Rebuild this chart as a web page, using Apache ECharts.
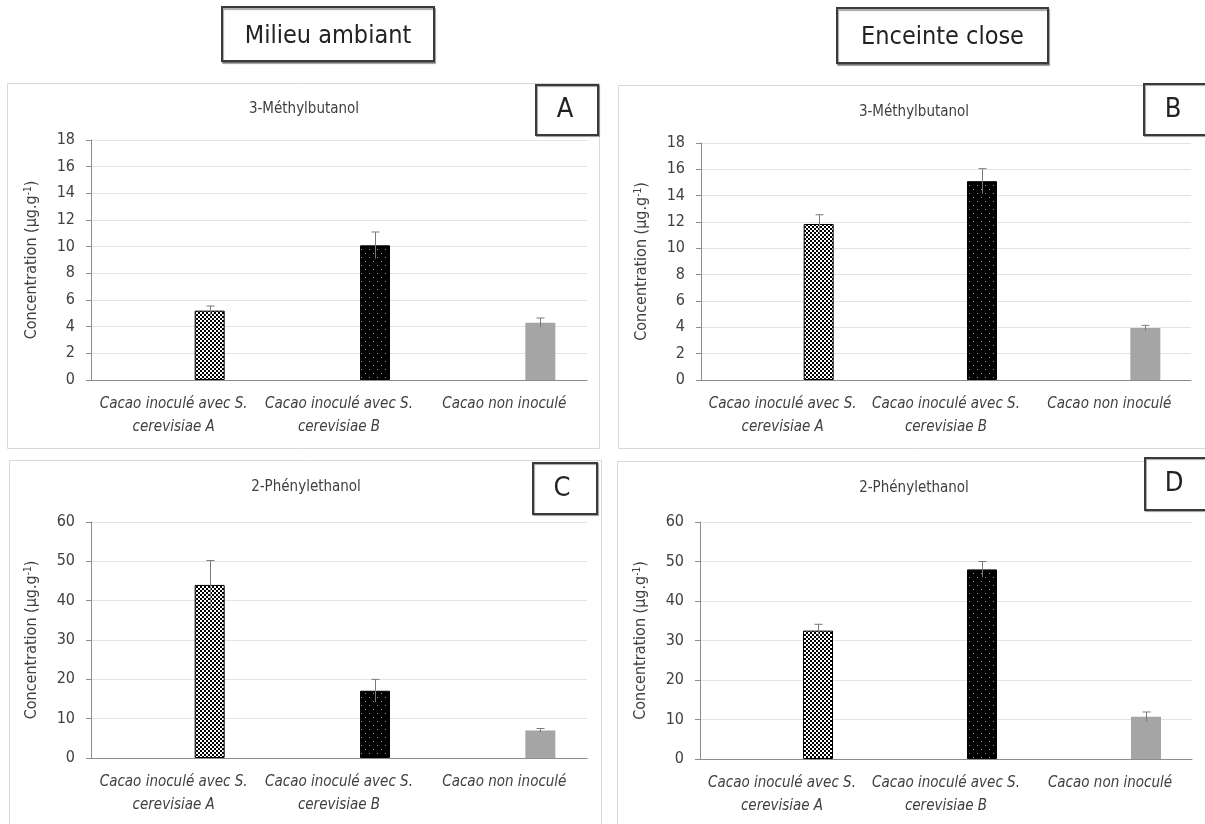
<!DOCTYPE html>
<html><head><meta charset="utf-8">
<script src="https://cdn.jsdelivr.net/npm/echarts@6/dist/echarts.min.js"></script>
<style>html,body{margin:0;padding:0;background:#fff}#c{width:1205px;height:824px}</style>
</head><body><div id="c"></div>
<script>
// ---------------- data ----------------
var categories = ['Cacao inoculé avec S.\ncerevisiae A', 'Cacao inoculé avec S.\ncerevisiae B', 'Cacao non inoculé'];
var headerLabels = ['Milieu ambiant', 'Enceinte close'];
var panelLetters = ['A', 'B', 'C', 'D'];
var panelTitles = ['3-Méthylbutanol', '3-Méthylbutanol', '2-Phénylethanol', '2-Phénylethanol'];
var yAxisName = 'Concentration (µg.g{s|-1})';

var valuesA = [5.2, 10.1, 4.3];
var errorsA = [0.35, 1.0, 0.35];
var valuesB = [11.85, 15.1, 3.95];
var errorsB = [0.7, 0.95, 0.2];
var valuesC = [44.0, 17.1, 7.0];
var errorsC = [6.2, 2.9, 0.5];
var valuesD = [32.5, 48.0, 10.7];
var errorsD = [1.6, 2.0, 1.2];

var yMaxTop = 18, yStepTop = 2;
var yMaxBottom = 60, yStepBottom = 10;

// ---------------- styles ----------------
var FONT = "'Liberation Sans Narrow','Arial Narrow','DejaVu Sans Condensed',sans-serif";
var TEXT = '#404040';
var BAR_W = 30, BAR_GAP = 1.4, CAP = 8;
var BAR_OFFSET = BAR_W * (1 + BAR_GAP) / 2;
var ERR_COLOR = '#7a7a7a';

function makeChecker() {
  var c = document.createElement('canvas'); c.width = 4; c.height = 4;
  var g = c.getContext('2d');
  g.fillStyle = '#000'; g.fillRect(0, 0, 4, 4);
  g.fillStyle = '#fff'; g.fillRect(0, 0, 2, 2); g.fillRect(2, 2, 2, 2);
  return c;
}
function makeDots() {
  var c = document.createElement('canvas'); c.width = 8; c.height = 8;
  var g = c.getContext('2d');
  g.fillStyle = '#000'; g.fillRect(0, 0, 8, 8);
  g.fillStyle = '#9a9a9a'; g.fillRect(1, 1, 1, 1); g.fillRect(5, 5, 1, 1);
  return c;
}
var fills = [
  { image: makeChecker(), repeat: 'repeat' },
  { image: makeDots(), repeat: 'repeat' },
  '#a5a5a5'
];

var panels = [
  { vals: valuesA, errs: errorsA, max: yMaxTop, step: yStepTop, grid: { left: 91, top: 140, width: 496, height: 240 },
    box: [7.5, 83.5, 592, 365], letterBox: [536, 85, 62, 50], titlePos: [304, 109] },
  { vals: valuesB, errs: errorsB, max: yMaxTop, step: yStepTop, grid: { left: 701, top: 143, width: 490, height: 237 },
    box: [618.5, 85.5, 620, 363], letterBox: [1144, 84, 70, 51], titlePos: [914, 112] },
  { vals: valuesC, errs: errorsC, max: yMaxBottom, step: yStepBottom, grid: { left: 91, top: 522, width: 496, height: 236 },
    box: [9.5, 460.5, 592, 400], letterBox: [533, 463, 64, 51], titlePos: [306, 487] },
  { vals: valuesD, errs: errorsD, max: yMaxBottom, step: yStepBottom, grid: { left: 700, top: 522, width: 492, height: 237 },
    box: [617.5, 461.5, 620, 400], letterBox: [1145, 458, 70, 52], titlePos: [914, 488] }
];

var grids = [], xAxes = [], yAxes = [], series = [], graphics = [];

panels.forEach(function (p, i) {
  graphics.push({ type: 'rect', shape: { x: p.box[0], y: p.box[1], width: p.box[2], height: p.box[3] },
    style: { fill: '#fff', stroke: '#d9d9d9', lineWidth: 1 }, z: -10 });
  graphics.push({ type: 'text', x: p.titlePos[0], y: p.titlePos[1],
    style: { text: panelTitles[i], font: '15px ' + FONT, fill: TEXT, textAlign: 'center', textVerticalAlign: 'middle' }, z: 5 });
  var lb = p.letterBox;
  graphics.push({ type: 'rect', shape: { x: lb[0], y: lb[1], width: lb[2], height: lb[3] },
    style: { fill: '#fff', stroke: '#3a3a3a', lineWidth: 2, shadowColor: 'rgba(0,0,0,0.35)', shadowOffsetX: 1, shadowOffsetY: 1, shadowBlur: 1 }, z: 5 });
  graphics.push({ type: 'text', x: lb[0] + 29, y: lb[1] + lb[3] / 2,
    style: { text: panelLetters[i], font: '27px ' + FONT, fill: '#222', textAlign: 'center', textVerticalAlign: 'middle' }, z: 6 });

  grids.push(p.grid);
  xAxes.push({ type: 'category', gridIndex: i, data: categories,
    axisLine: { lineStyle: { color: '#8c8c8c', width: 1 } }, axisTick: { show: false },
    axisLabel: { interval: 0, margin: 13, fontFamily: FONT, fontSize: 15, fontStyle: 'italic', color: TEXT, lineHeight: 23 } });
  yAxes.push({ type: 'value', gridIndex: i, min: 0, max: p.max, interval: p.step,
    name: yAxisName, nameLocation: 'middle', nameGap: 50,
    nameTextStyle: { fontFamily: FONT, fontSize: 16, color: TEXT, lineHeight: 18,
      rich: { s: { fontFamily: FONT, fontSize: 10, color: TEXT, verticalAlign: 'top', lineHeight: 18 } } },
    axisLine: { show: true, lineStyle: { color: '#8c8c8c', width: 1 } },
    axisTick: { show: true, length: 5, lineStyle: { color: '#8c8c8c' } },
    axisLabel: { margin: 16, fontFamily: FONT, fontSize: 16, color: TEXT },
    splitLine: { lineStyle: { color: '#e3e3e3', width: 1 } } });

  series.push({ type: 'bar', xAxisIndex: i, yAxisIndex: i, data: [null, null, null],
    barWidth: BAR_W, barGap: (BAR_GAP * 100) + '%', silent: true });
  series.push({ type: 'bar', xAxisIndex: i, yAxisIndex: i, barWidth: BAR_W, barGap: (BAR_GAP * 100) + '%',
    data: p.vals.map(function (v, k) {
      return { value: v, itemStyle: { color: fills[k], borderColor: k < 2 ? '#000' : '#a5a5a5', borderWidth: k < 2 ? 1 : 0 } };
    }) });
  series.push({ type: 'custom', xAxisIndex: i, yAxisIndex: i, z: 10,
    data: p.vals.map(function (v, k) { return [k, v, p.errs[k]]; }),
    renderItem: function (params, api) {
      var k = api.value(0), v = api.value(1), e = api.value(2);
      var top = api.coord([k, v + e]);
      var bot = api.coord([k, v - e]);
      var cx = Math.round(top[0] + BAR_OFFSET) + 0.5;
      var st = { stroke: ERR_COLOR, lineWidth: 1 };
      return { type: 'group', children: [
        { type: 'line', shape: { x1: cx, y1: top[1], x2: cx, y2: bot[1] }, style: st },
        { type: 'line', shape: { x1: cx - CAP / 2, y1: top[1], x2: cx + CAP / 2, y2: top[1] }, style: st }
      ] };
    } });
});

// header boxes
var headerBoxes = [[222, 7, 212, 54], [837, 8, 211, 55]];
headerLabels.forEach(function (t, i) {
  var b = headerBoxes[i];
  graphics.push({ type: 'rect', shape: { x: b[0], y: b[1], width: b[2], height: b[3] },
    style: { fill: '#fff', stroke: '#3a3a3a', lineWidth: 2, shadowColor: 'rgba(0,0,0,0.35)', shadowOffsetX: 1, shadowOffsetY: 2, shadowBlur: 1 } });
  graphics.push({ type: 'text', x: b[0] + b[2] / 2, y: b[1] + b[3] / 2 + 2,
    style: { text: t, font: '25px ' + FONT, fill: '#222', textAlign: 'center', textVerticalAlign: 'middle' } });
});

var chart = echarts.init(document.getElementById('c'), null, { renderer: 'canvas' });
chart.setOption({
  backgroundColor: '#fff',
  animation: false,
  grid: grids, xAxis: xAxes, yAxis: yAxes, series: series,
  graphic: { elements: graphics }
});
</script></body></html>
